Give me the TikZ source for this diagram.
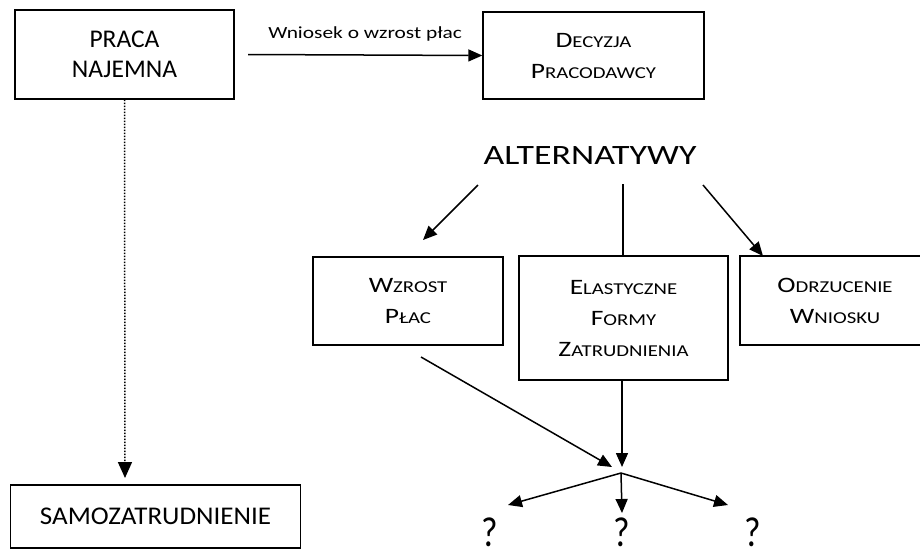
\documentclass[tikz,border=0pt]{standalone}
\usepackage{fontspec}
\usepackage{graphicx}
\setmainfont{Carlito}
\usetikzlibrary{arrows.meta}
\newcommand\fakesc[2]{\scalebox{1.25}[1]{#1{\fontsize{16.6}{20}\selectfont #2}}}
\tikzset{
  boxnode/.style={draw,line width=1.4pt,align=center,font=\fontsize{22}{31}\selectfont,inner sep=0pt},
  tip/.style={-{Triangle[length=14pt,width=12pt]}},
  conn/.style={line width=1.5pt,tip},
  plainline/.style={line width=1.5pt},
  dotline/.style={line width=1.5pt,dash pattern=on 1.4pt off 1.6pt,-{Triangle[length=16pt,width=14pt]}},
  qmark/.style={font=\fontsize{42}{42}\selectfont,inner sep=0pt,xscale=0.85,anchor=north}
}
\begin{document}
\begin{tikzpicture}[x=1pt,y=-1pt]
\useasboundingbox (0,0) rectangle (920,558);
\node[boxnode,font=\fontsize{25.5}{30}\selectfont,minimum width=219pt,minimum height=89pt] (praca) at (124.5,54.5) {PRACA\\NAJEMNA};
\node[boxnode,minimum width=221pt,minimum height=87pt] (decyzja) at (593.5,55.5) {\fakesc{D}{ECYZJA}\\\fakesc{P}{RACODAWCY}};
\node[font=\fontsize{28}{34}\selectfont,inner sep=0pt,xscale=1.28] (alt) at (590,156) {ALTERNATYWY};
\node[boxnode,minimum width=190pt,minimum height=88pt] (wzrost) at (408,301) {\fakesc{W}{ZROST}\\\fakesc{P}{ŁAC}};
\node[boxnode,minimum width=209pt,minimum height=124pt] (elast) at (623.5,318) {\fakesc{E}{LASTYCZNE}\\\fakesc{F}{ORMY}\\\fakesc{Z}{ATRUDNIENIA}};
\node[boxnode,minimum width=190pt,minimum height=89pt] (odrz) at (835,300.5) {\fakesc{O}{DRZUCENIE}\\\fakesc{W}{NIOSKU}};
\node[boxnode,font=\fontsize{25.5}{30}\selectfont,minimum width=290pt,minimum height=63pt] (samo) at (155.5,516.5) {\scalebox{1.06}[1]{SAMOZATRUDNIENIE}};
\node[qmark] (q1) at (490,518) {?};
\node[qmark] (q2) at (622,518) {?};
\node[qmark] (q3) at (753,518) {?};
% connectors
\coordinate (wstart) at (248,55);
\draw[conn] (praca.east -| wstart) -- node[above=13pt,font=\fontsize{17}{20}\selectfont,inner sep=0pt,xscale=1.26] {Wniosek o wzrost płac} (decyzja.west);
\coordinate (a1s) at (478,185);
\coordinate (a1e) at (423,240);
\coordinate (a2s) at (623,184);
\coordinate (a3s) at (703,185);
\coordinate (a3e) at (763,256);
\draw[conn] (a1s) -- (a1e);
\draw[plainline] (a2s) -- (a2s |- elast.north);
\draw[conn] (a3s) -- (a3e);
\coordinate (d1s) at (421,357);
\coordinate (d1e) at (612,467);
\coordinate (d2e) at (622,467);
\coordinate (branch) at (621,473);
\draw[conn] (d1s) -- (d1e);
\draw[conn] (elast.south -| d2e) -- (d2e);
\coordinate (b1) at (508,505);
\coordinate (b2) at (622,513);
\coordinate (b3) at (728,505);
\draw[conn] (branch) -- (b1);
\draw[conn] (branch) -- (b2);
\draw[conn] (branch) -- (b3);
\coordinate (dotend) at (125,478);
\draw[dotline] (praca.south) -- (dotend);
\end{tikzpicture}
\end{document}
